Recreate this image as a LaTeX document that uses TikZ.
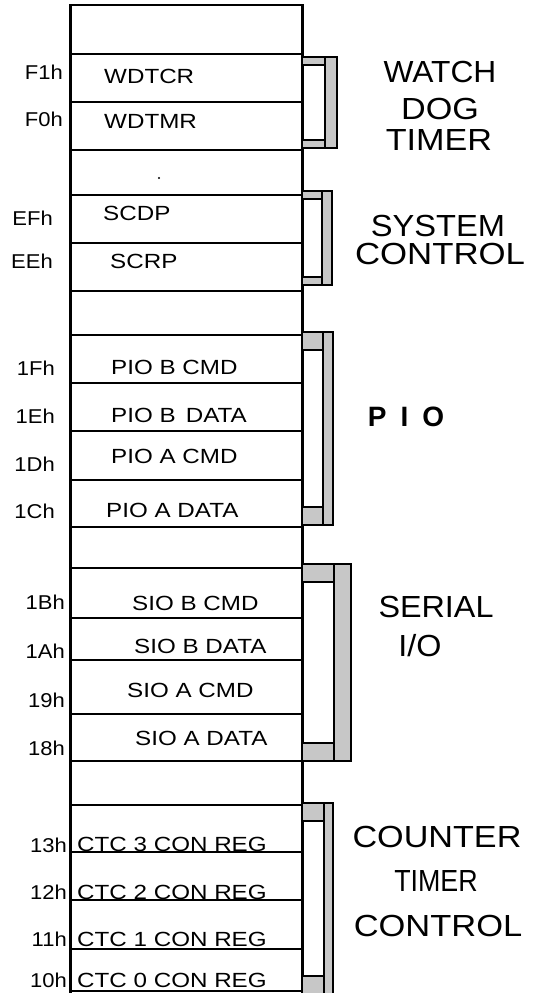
\documentclass[tikz,border=0pt]{standalone}
\usepackage{fontspec}
\usepackage{graphicx}
\setmainfont{Liberation Sans}
\newfontfamily\regfam[FakeStretch=1.18]{Liberation Sans}
\newfontfamily\addrfam[FakeStretch=1.1]{Liberation Sans}
\newcommand\hs[2]{\scalebox{#1}[1]{#2}}
\newcommand\regbracket[5]{%
  \fill[black!22] (#1,#3) rectangle (#2,#4);
  \fill[black!22] (302,#3) rectangle (#1,#3+#5);
  \fill[black!22] (302,#4-#5) rectangle (#1,#4);
  \draw[brk] (302,#3) rectangle (#2,#4);
  \draw[brk] (#1,#3) -- (#1,#4);
  \draw[brk] (302,#3+#5) -- (#1,#3+#5);
  \draw[brk] (302,#4-#5) -- (#1,#4-#5);
}
\begin{document}
\begin{tikzpicture}[x=1pt,y=-1pt,
  reg/.style={font=\regfam\fontsize{20.5}{24}\selectfont, anchor=base west, inner sep=0pt},
  addr/.style={font=\addrfam\fontsize{20}{22}\selectfont, anchor=base east, inner sep=0pt},
  big/.style={font=\fontsize{30.5}{33}\selectfont, anchor=base, inner sep=0pt},
  bigbold/.style={font=\bfseries\fontsize{28}{33}\selectfont, anchor=base, inner sep=0pt},
  rowline/.style={line width=1.2pt},
  frame/.style={line width=3pt},
  brk/.style={line width=1.3pt}]
\useasboundingbox (0,0) rectangle (537,993);
\fill[white] (0,0) rectangle (537,993);

% row lines
\foreach \y in {54,102,150,195,243,291,335,383,431,480,527,568,618,660,714,761,805,852,900,949,991}
  \draw[rowline] (70,\y) -- (302,\y);
% frame
\draw[line width=1.6pt] (70,5) -- (302,5);
\draw[frame] (70,4) -- (70,995);
\draw[frame] (302,4) -- (302,995);
\fill (159,178) circle (1.1);

% brackets: x_s, x_r, top, bottom, tab
\regbracket{325}{337}{57}{148}{8}
\regbracket{322}{332}{191}{285}{8}
\regbracket{323}{333}{332}{525}{18}
\regbracket{334}{351}{564}{761}{18}
\regbracket{324}{333}{803}{994}{18}

% registers (baseline = centre + 7.3)
\node[reg] (wdtcr) at (104,76+7.3) {WDTCR};
\node[reg] (wdtmr) at (104,121+7.3) {WDTMR};
\node[reg] (scdp) at (103,213+7.3) {SCDP};
\node[reg] (scrp) at (110,261+7.3) {SCRP};
\node[reg] (piobc) at (111,367+7.3) {PIO B CMD};
\node[reg] (piobd) at (111,415+7.3) {PIO B\, DATA};
\node[reg] (pioac) at (111,456+7.3) {PIO A CMD};
\node[reg] (pioad) at (106,510+7.3) {PIO A DATA};
\node[reg] (siobc) at (132,603+7.3) {SIO B CMD};
\node[reg] (siobd) at (134,646+7.3) {SIO B DATA};
\node[reg] (sioac) at (127,690+7.3) {SIO A CMD};
\node[reg] (sioad) at (135,738+7.3) {SIO A DATA};
\node[reg] (ctc3) at (77,844+7.3) {CTC 3 CON REG};
\node[reg] (ctc2) at (77,892+7.3) {CTC 2 CON REG};
\node[reg] (ctc1) at (77,939+7.3) {CTC 1 CON REG};
\node[reg] (ctc0) at (77,980+7.3) {CTC 0 CON REG};

% addresses (baseline = centre + 7.2)
\node[addr] (aF1) at (63,72+7.2) {F1h};
\node[addr] (aF0) at (63,119+7.2) {F0h};
\node[addr] (aEF) at (53,218+7.2) {EFh};
\node[addr] (aEE) at (53,261+7.2) {EEh};
\node[addr] (a1F) at (55,368+7.2) {1Fh};
\node[addr] (a1E) at (55,416+7.2) {1Eh};
\node[addr] (a1D) at (55,464+7.2) {1Dh};
\node[addr] (a1C) at (55,511+7.2) {1Ch};
\node[addr] (a1B) at (65,602+7.2) {1Bh};
\node[addr] (a1A) at (65,651+7.2) {1Ah};
\node[addr] (a19) at (65,700+7.2) {19h};
\node[addr] (a18) at (65,748+7.2) {18h};
\node[addr] (a13) at (67,845+7.2) {13h};
\node[addr] (a12) at (67,892+7.2) {12h};
\node[addr] (a11) at (67,939+7.2) {11h};
\node[addr] (a10) at (67,980+7.2) {10h};

% group labels (baseline = centre + 11)
\node[big] (watch) at (440,71+11) {\hs{1.04}{WATCH}};
\node[big] (dog) at (440,108+11) {\hs{1.12}{DOG}};
\node[big] (timer1) at (439,139+11) {\hs{1.12}{TIMER}};
\node[big] (system) at (438,225+11) {\hs{1.07}{SYSTEM}};
\node[big] (control1) at (440,253+11) {\hs{1.14}{CONTROL}};
\node[bigbold] (pio) at (406,416+10) {{\spaceskip=14pt P I O}};
\node[big] (serial) at (436,606+11) {\hs{1.06}{SERIAL}};
\node[big] (io) at (420,645+11) {\hs{1.06}{I/O}};
\node[big] (counter) at (437,836+11) {\hs{1.12}{COUNTER}};
\node[big] (timer2) at (436,880+11) {\hs{0.88}{TIMER}};
\node[big] (control2) at (438,925+11) {\hs{1.13}{CONTROL}};
\end{tikzpicture}
\end{document}
